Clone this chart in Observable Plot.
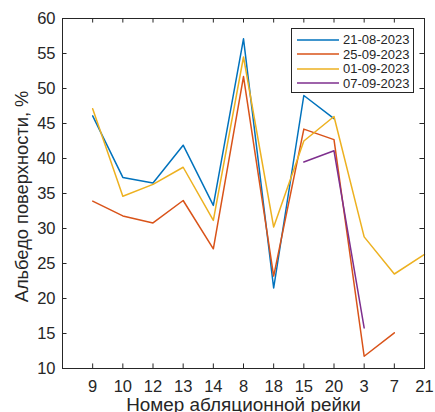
<!DOCTYPE html>
<html>
<head>
<meta charset="utf-8">
<script src="https://cdn.jsdelivr.net/npm/d3@7"></script>
<script src="https://cdn.jsdelivr.net/npm/@observablehq/plot@0.6"></script>
<style>
  body { margin: 0; background: #fff; }
  #wrap { position: relative; width: 435px; height: 412px; overflow: hidden; font-family: "Liberation Sans", Arial, sans-serif; }
  #legend { position: absolute; left: 291px; top: 28px; width: 121px; height: 63px; border: 1px solid #262626; background: #fff; }
  .row { position: absolute; left: 5px; height: 14px; display: flex; align-items: center; font-size: 13px; color: #262626; white-space: nowrap; }
  .row svg { margin-right: 4px; }
</style>
</head>
<body>
<div id="wrap"><div id="chart"></div><div id="legend"></div></div>
<script>
const categories = ["9","10","12","13","14","8","18","15","20","3","7","21"];
const seriesNames = ["21-08-2023","25-09-2023","01-09-2023","07-09-2023"];
const s21_08 = [46.1,37.3,36.5,41.9,33.3,57.1,21.5,49.0,45.7,null,null,null];
const s25_09 = [33.9,31.8,30.8,34.0,27.1,51.7,23.2,44.2,42.7,11.75,15.1,null];
const s01_09 = [47.1,34.6,36.3,38.75,31.15,54.5,30.2,42.5,46.0,28.8,23.5,26.3];
const s07_09 = [null,null,null,null,null,null,null,39.5,41.1,15.8,null,null];
const seriesValues = [s21_08, s25_09, s01_09, s07_09];
const colors = ["#0072BD","#D95319","#EDB120","#7E2F8E"];
const yTicks = [10,15,20,25,30,35,40,45,50,55,60];
const xLabel = "Номер абляционной рейки";
const yLabel = "Альбедо поверхности, %";

const idx = categories.map((_, i) => i + 1);
const data = [];
seriesNames.forEach((s, k) => {
  seriesValues[k].forEach((v, i) => data.push({i: i + 1, v: v == null ? NaN : v, s}));
});
const ink = "#262626";

const chart = Plot.plot({
  width: 435,
  height: 412,
  marginLeft: 62,
  marginRight: 11,
  marginTop: 18,
  marginBottom: 44,
  style: {fontFamily: "'Liberation Sans', Arial, sans-serif", color: ink, background: "#fff"},
  x: {type: "linear", domain: [0, 12]},
  y: {domain: [10, 60]},
  color: {domain: seriesNames, range: colors},
  marks: [
    Plot.line(data, {x: "i", y: "v", z: "s", stroke: "s", strokeWidth: 1.5}),
    Plot.ruleX(idx, {x: d => d, y1: 10, y2: 10.65, stroke: ink}),
    Plot.ruleX(idx, {x: d => d, y1: 59.35, y2: 60, stroke: ink}),
    Plot.ruleY(yTicks, {y: d => d, x1: 0, x2: 0.15, stroke: ink}),
    Plot.ruleY(yTicks, {y: d => d, x1: 11.85, x2: 12, stroke: ink}),
    Plot.frame({stroke: ink, strokeWidth: 1}),
    Plot.axisX({ticks: idx, tickFormat: i => categories[i - 1], tickSize: 0, tickPadding: 12, fontSize: 16.5, label: null}),
    Plot.axisY({ticks: yTicks, tickSize: 0, tickPadding: 7, fontSize: 16.5, label: null}),
    Plot.text([xLabel], {frameAnchor: "bottom", dy: 36.5, fontSize: 18.9, fill: ink, lineAnchor: "middle", textAnchor: "middle"}),
    Plot.text([yLabel], {frameAnchor: "left", dx: -40, dy: 3, rotate: -90, fontSize: 18.3, fill: ink, textAnchor: "middle", lineAnchor: "middle"})
  ]
});
document.getElementById("chart").appendChild(chart);

const legend = document.getElementById("legend");
const rowTops = [3.5, 18, 32.5, 47];
seriesNames.forEach((s, k) => {
  const row = document.createElement("div");
  row.className = "row";
  row.style.top = rowTops[k] + "px";
  row.innerHTML = `<svg width="42" height="4"><line x1="0" x2="42" y1="2" y2="2" stroke="${colors[k]}" stroke-width="1.5"/></svg><span>${s}</span>`;
  legend.appendChild(row);
});
</script>
</body>
</html>
